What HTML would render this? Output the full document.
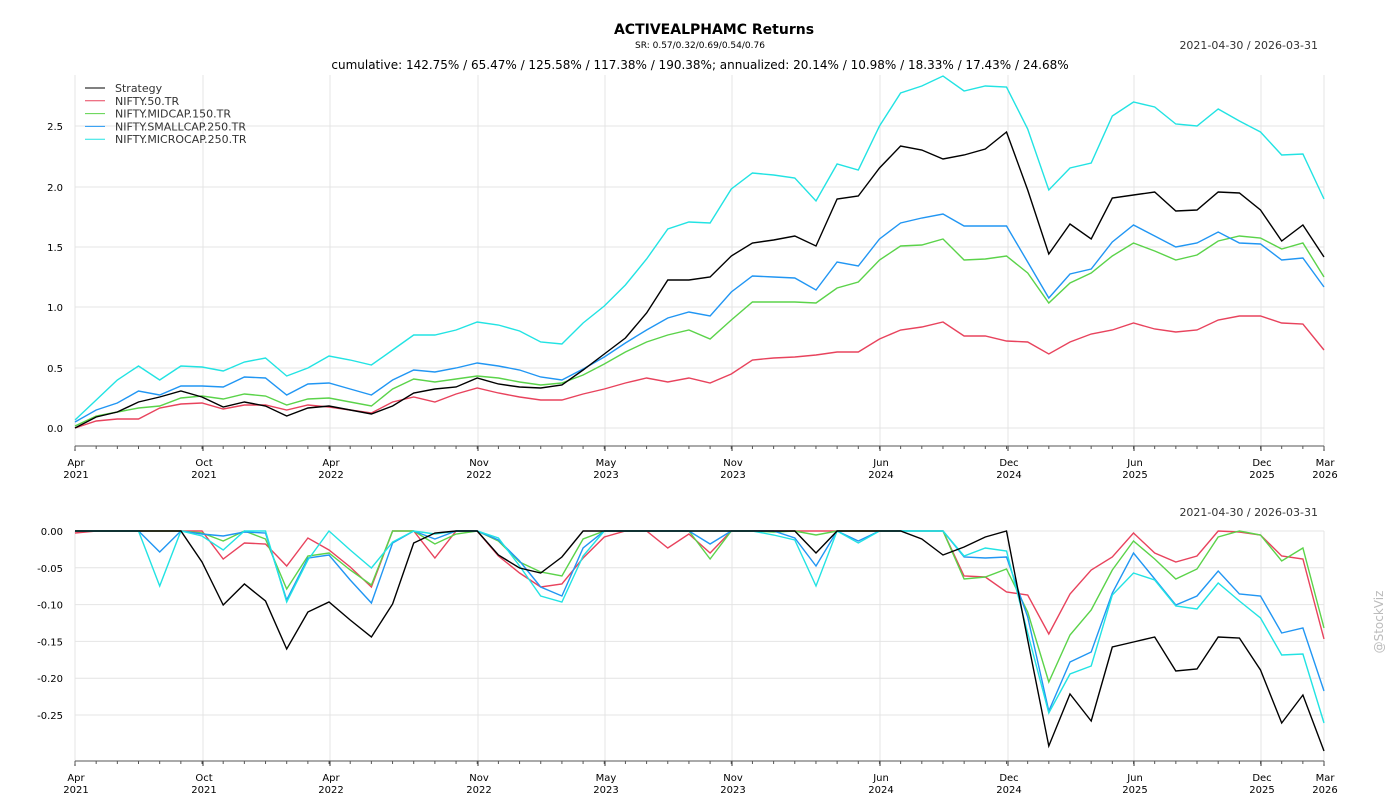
<!DOCTYPE html>
<html><head><meta charset="utf-8"><style>
body{margin:0;background:#fff;}
svg{display:block;font-family:"DejaVu Sans","Liberation Sans",sans-serif;}
</style></head><body>
<svg id="s" width="1400" height="800" xmlns="http://www.w3.org/2000/svg">
<rect width="1400" height="800" fill="#fff"/>
<text x="714" y="34" font-size="14" font-weight="bold" text-anchor="middle">ACTIVEALPHAMC Returns</text>
<text x="700" y="48" font-size="9" text-anchor="middle">SR: 0.57/0.32/0.69/0.54/0.76</text>
<text x="700" y="69" font-size="12" text-anchor="middle">cumulative: 142.75% / 65.47% / 125.58% / 117.38% / 190.38%; annualized: 20.14% / 10.98% / 18.33% / 17.43% / 24.68%</text>
<text x="1318" y="49" font-size="11" text-anchor="end" fill="#333">2021-04-30 / 2026-03-31</text>
<text x="1318" y="516" font-size="11" text-anchor="end" fill="#333">2021-04-30 / 2026-03-31</text>
<text x="1383" y="622" font-size="12" fill="#bbb" text-anchor="middle" transform="rotate(-90 1383 622)">@StockViz</text>
<g id="g"></g>
</svg>
<script>
(function(){
const g=document.getElementById('g');let h='';
const X=i=>75+i*21.17;
const tx=[[75,'Apr','2021'],[203,'Oct','2021'],[330,'Apr','2022'],[478,'Nov','2022'],[605,'May','2023'],[732,'Nov','2023'],[880,'Jun','2024'],[1008,'Dec','2024'],[1134,'Jun','2025'],[1261,'Dec','2025'],[1324,'Mar','2026']];
[428,368,307,247,187,126].forEach((y,k)=>{h+=`<line x1="75" x2="1324" y1="${y}" y2="${y}" stroke="#e4e4e4"/><text x="63" y="${y+4}" font-size="10" text-anchor="end">${(k*0.5).toFixed(1)}</text>`;});
const dl=['0.00','-0.05','-0.10','-0.15','-0.20','-0.25'];
dl.forEach((t,k)=>{let y=531+k*36.8;h+=`<line x1="75" x2="1324" y1="${y}" y2="${y}" stroke="#e4e4e4"/><text x="63" y="${y+4}" font-size="10" text-anchor="end">${t}</text>`;});
tx.forEach(([x,a,b])=>{
h+=`<line x1="${x}" x2="${x}" y1="75" y2="446" stroke="#e4e4e4"/><line x1="${x}" x2="${x}" y1="531" y2="761" stroke="#e4e4e4"/>`;
[[446,463],[761,778]].forEach(([ya,yt])=>{h+=`<line x1="${x}" x2="${x}" y1="${ya}" y2="${ya+5}" stroke="#333"/><text x="${x+1}" y="${yt+3}" font-size="10" text-anchor="middle">${a}</text><text x="${x+1}" y="${yt+15}" font-size="10" text-anchor="middle">${b}</text>`;});});
for(let i=0;i<60;i++){h+=`<line x1="${X(i)}" x2="${X(i)}" y1="446" y2="449" stroke="#555"/><line x1="${X(i)}" x2="${X(i)}" y1="761" y2="764" stroke="#555"/>`;}
h+=`<line x1="75" x2="1324" y1="446" y2="446" stroke="#555"/><line x1="75" x2="1324" y1="761" y2="761" stroke="#555"/>`;
const topd={
c:[420,400,380,366,380,366,367,371,362,358,376,368,356,360,365,350,335,335,330,322,325,331,342,344,323,306,285,259,229,222,223,189,173,175,178,201,164,170,126,93,86,76,91,86,87,129,190,168,163,116,102,107,124,126,109,121,132,155,154,199],
b:[422,410,403,391,395,386,386,387,377,378,395,384,383,389,395,380,370,372,368,363,366,370,377,380,369,357,343,330,318,312,316,292,276,277,278,290,262,266,239,223,218,214,226,226,226,262,298,274,269,242,225,236,247,243,232,243,244,260,258,287],
g:[426,416,412,408,406,398,396,399,394,396,405,399,398,402,406,389,379,382,379,376,378,382,385,383,375,364,352,342,335,330,339,320,302,302,302,303,288,282,260,246,245,239,260,259,256,273,303,283,273,256,243,251,260,255,241,236,238,249,243,277],
r:[428,421,419,419,408,404,403,409,405,405,410,405,407,410,413,402,397,402,394,388,393,397,400,400,394,389,383,378,382,378,383,374,360,358,357,355,352,352,339,330,327,322,336,336,341,342,354,342,334,330,323,329,332,330,320,316,316,323,324,350],
k:[428,417,412,402,397,391,397,407,402,406,416,408,406,410,414,406,393,389,387,378,384,387,388,385,370,354,338,313,280,280,277,256,243,240,236,246,199,196,168,146,150,159,155,149,132,190,254,224,239,198,195,192,211,210,192,193,210,241,225,257]};
const Z=531;
const bot={
c:[Z,Z,Z,Z,586,Z,536,550,Z,Z,602,560,Z,550,568,542,Z,534,Z,Z,538,566,596,602,556,Z,Z,Z,Z,Z,Z,Z,Z,535,540,586,Z,543,Z,Z,Z,Z,556,548,551,633,713,674,666,595,573,580,606,609,583,601,618,655,654,723],
b:[Z,Z,Z,Z,552,Z,534,536,532,533,600,558,555,580,603,543,Z,539,Z,Z,540,561,587,596,548,Z,Z,Z,Z,Z,544,Z,Z,Z,538,566,Z,541,Z,Z,Z,Z,557,558,557,617,711,662,652,593,553,579,605,596,571,594,596,633,628,691],
g:[Z,Z,Z,Z,Z,Z,533,541,Z,539,589,556,553,570,585,Z,Z,544,534,Z,541,562,572,576,539,Z,Z,Z,Z,Z,559,Z,Z,532,Z,535,Z,Z,Z,Z,Z,Z,579,577,569,612,682,635,610,570,541,559,579,569,537,Z,535,561,548,628],
r:[533,Z,Z,Z,Z,Z,Z,559,543,544,566,538,550,567,587,Z,Z,558,Z,Z,556,573,587,584,558,537,Z,Z,548,534,553,Z,Z,Z,Z,Z,Z,Z,Z,Z,Z,Z,576,577,592,595,634,594,570,557,533,553,562,556,Z,532,535,556,559,639],
k:[Z,Z,Z,Z,Z,Z,562,605,584,601,649,612,602,620,637,604,543,533,Z,Z,555,568,573,557,Z,Z,Z,Z,Z,Z,Z,Z,Z,Z,Z,553,Z,Z,Z,Z,539,555,547,537,Z,640,746,694,721,647,642,637,671,669,637,638,670,723,695,751]};
const fix=a=>{a=a.slice(0,60);while(a.length<60)a.push(a[a.length-1]);return a;};
const col={c:'#22e3e3',b:'#2196f3',g:'#5bd34a',r:'#e8435d',k:'#000'};
const pl=(a,c)=>`<polyline fill="none" stroke="${c}" stroke-width="1.4" points="${fix(a).map((y,i)=>X(i).toFixed(1)+','+y).join(' ')}"/>`;
['r','g','b','c','k'].forEach(s=>{h+=pl(topd[s],col[s]);h+=pl(bot[s],col[s]);});
const lg=[['Strategy','k'],['NIFTY.50.TR','r'],['NIFTY.MIDCAP.150.TR','g'],['NIFTY.SMALLCAP.250.TR','b'],['NIFTY.MICROCAP.250.TR','c']];
lg.forEach(([t,s],i)=>{let y=88+i*12.8;h+=`<line x1="85" x2="105" y1="${y}" y2="${y}" stroke="${col[s]}" stroke-width="1"/><text x="115" y="${y+4}" font-size="11" fill="#333">${t}</text>`;});
g.innerHTML=h;
})();
</script>
</body></html>
